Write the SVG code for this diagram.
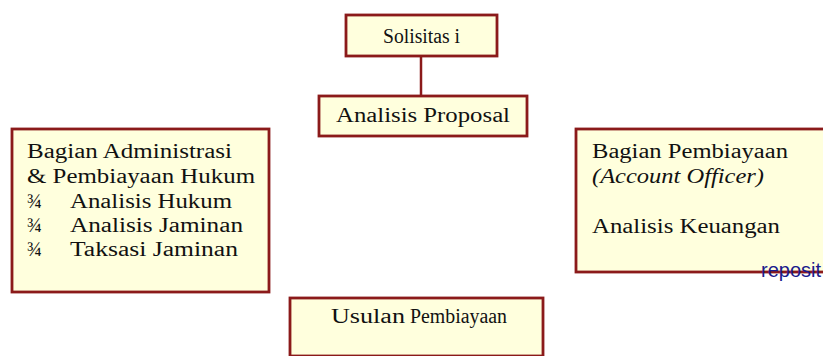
<svg xmlns="http://www.w3.org/2000/svg" width="823" height="356" viewBox="0 0 823 356">
<style>
.box{fill:#FFFFDD;stroke:#8B1A1A;stroke-width:2.8}
.t{font-family:"Liberation Serif","Times New Roman",serif;fill:#111111;font-size:20px}
.conn{stroke:#8B1A1A;stroke-width:2.5;fill:none}
</style>
<rect width="823" height="356" fill="#ffffff"/>
<g id="connectors">
<line class="conn" x1="421" y1="56" x2="421" y2="96"/>
</g>
<g id="solisitasi">
<rect class="box" x="346" y="15" width="151" height="41"/>
<text class="t" x="383" y="43" font-size="14" textLength="77" lengthAdjust="spacingAndGlyphs">Solisitas i</text>
</g>
<g id="analisis-proposal">
<rect class="box" x="319" y="96" width="208" height="40"/>
<text class="t" x="336" y="122" textLength="174" lengthAdjust="spacingAndGlyphs">Analisis Proposal</text>
</g>
<g id="bagian-administrasi">
<rect class="box" x="12" y="129" width="257" height="163"/>
<text class="t" x="27" y="158" textLength="205" lengthAdjust="spacingAndGlyphs">Bagian Administrasi</text>
<text class="t" x="27" y="183" textLength="228" lengthAdjust="spacingAndGlyphs">&amp; Pembiayaan Hukum</text>
<text class="t" x="27" y="208">¾</text>
<text class="t" x="70" y="208" textLength="162" lengthAdjust="spacingAndGlyphs">Analisis Hukum</text>
<text class="t" x="27" y="232">¾</text>
<text class="t" x="70" y="232" textLength="173" lengthAdjust="spacingAndGlyphs">Analisis Jaminan</text>
<text class="t" x="27" y="256">¾</text>
<text class="t" x="70" y="256" textLength="168" lengthAdjust="spacingAndGlyphs">Taksasi Jaminan</text>
</g>
<g id="bagian-pembiayaan">
<rect class="box" x="576" y="129" width="260" height="143"/>
<text class="t" x="592" y="158" textLength="196" lengthAdjust="spacingAndGlyphs">Bagian Pembiayaan</text>
<text class="t" x="592" y="183" font-style="italic" textLength="172" lengthAdjust="spacingAndGlyphs">(Account Officer)</text>
<text class="t" x="592" y="233" textLength="188" lengthAdjust="spacingAndGlyphs">Analisis Keuangan</text>
</g>
<g id="usulan-pembiayaan">
<rect class="box" x="290" y="298" width="253" height="58"/>
<text class="t" x="331" y="323" textLength="74" lengthAdjust="spacingAndGlyphs">Usulan</text>
<text class="t" x="410" y="323" font-size="15" textLength="97" lengthAdjust="spacingAndGlyphs">Pembiayaan</text>
</g>
<text x="761" y="277" font-family="Liberation Sans,Arial,sans-serif" font-size="20" fill="#1a1a8c">reposit</text>
</svg>
